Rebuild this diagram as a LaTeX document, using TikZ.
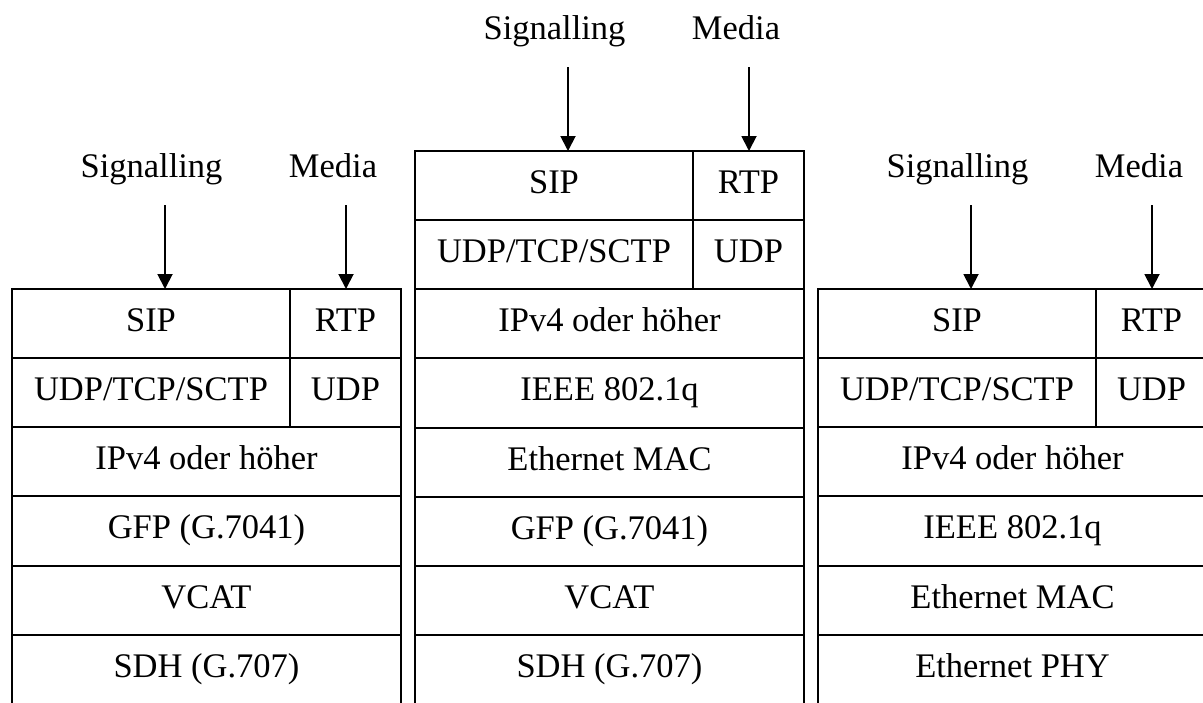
\documentclass[tikz,border=0pt]{standalone}
\usepackage{fontspec}
\setmainfont{Liberation Serif}
\usetikzlibrary{arrows.meta}
\begin{document}
\begin{tikzpicture}[x=1pt,y=-1pt,
  cell/.style={draw,line width=1.9pt,rectangle,anchor=north west,inner sep=0pt,outer sep=0pt,
    minimum height=69.14pt,font=\fontsize{34.5}{40}\selectfont,text height=24pt,text depth=8pt},
  wide/.style={cell,minimum width=389pt},
  sigcell/.style={cell,minimum width=278pt},
  medcell/.style={cell,minimum width=111pt},
  lbl/.style={anchor=base,inner sep=0pt,font=\fontsize{34.5}{40}\selectfont},
  flow/.style={line width=1.9pt,-{Triangle[width=15pt,length=15pt]}}
]
\useasboundingbox (0,0) rectangle (1203,702);
\clip (0,0) rectangle (1203,702);

% ---------- left stack ----------
\node[sigcell] (l1s) at (12,289) {SIP};
\node[medcell] (l1m) at (l1s.north east) {RTP};
\node[sigcell] (l2s) at (l1s.south west) {UDP/TCP/SCTP};
\node[medcell] (l2m) at (l2s.north east) {UDP};
\node[wide] (l3) at (l2s.south west) {IPv4 oder höher};
\node[wide] (l4) at (l3.south west) {GFP (G.7041)};
\node[wide] (l5) at (l4.south west) {VCAT};
\node[wide] (l6) at (l5.south west) {SDH (G.707)};
\node[lbl] (lsig) at (151.5,177) {Signalling};
\node[lbl] (lmed) at (333,177) {Media};
\coordinate (lsa) at (165,205);
\coordinate (lma) at (346,205);
\draw[flow] (lsa) -- (lsa |- l1s.north);
\draw[flow] (lma) -- (lma |- l1m.north);

% ---------- middle stack ----------
\node[sigcell] (m1s) at (415,151) {SIP};
\node[medcell] (m1m) at (m1s.north east) {RTP};
\node[sigcell] (m2s) at (m1s.south west) {UDP/TCP/SCTP};
\node[medcell] (m2m) at (m2s.north east) {UDP};
\node[wide] (m3) at (m2s.south west) {IPv4 oder höher};
\node[wide] (m4) at (m3.south west) {IEEE 802.1q};
\node[wide] (m5) at (m4.south west) {Ethernet MAC};
\node[wide] (m6) at (m5.south west) {GFP (G.7041)};
\node[wide] (m7) at (m6.south west) {VCAT};
\node[wide] (m8) at (m7.south west) {SDH (G.707)};
\node[lbl] (msig) at (554.5,39) {Signalling};
\node[lbl] (mmed) at (736,39) {Media};
\coordinate (msa) at (568,67);
\coordinate (mma) at (749,67);
\draw[flow] (msa) -- (msa |- m1s.north);
\draw[flow] (mma) -- (mma |- m1m.north);

% ---------- right stack ----------
\node[sigcell] (r1s) at (818,289) {SIP};
\node[medcell] (r1m) at (r1s.north east) {RTP};
\node[sigcell] (r2s) at (r1s.south west) {UDP/TCP/SCTP};
\node[medcell] (r2m) at (r2s.north east) {UDP};
\node[wide] (r3) at (r2s.south west) {IPv4 oder höher};
\node[wide] (r4) at (r3.south west) {IEEE 802.1q};
\node[wide] (r5) at (r4.south west) {Ethernet MAC};
\node[wide] (r6) at (r5.south west) {Ethernet PHY};
\node[lbl] (rsig) at (957.5,177) {Signalling};
\node[lbl] (rmed) at (1139,177) {Media};
\coordinate (rsa) at (971,205);
\coordinate (rma) at (1152,205);
\draw[flow] (rsa) -- (rsa |- r1s.north);
\draw[flow] (rma) -- (rma |- r1m.north);
\end{tikzpicture}
\end{document}
